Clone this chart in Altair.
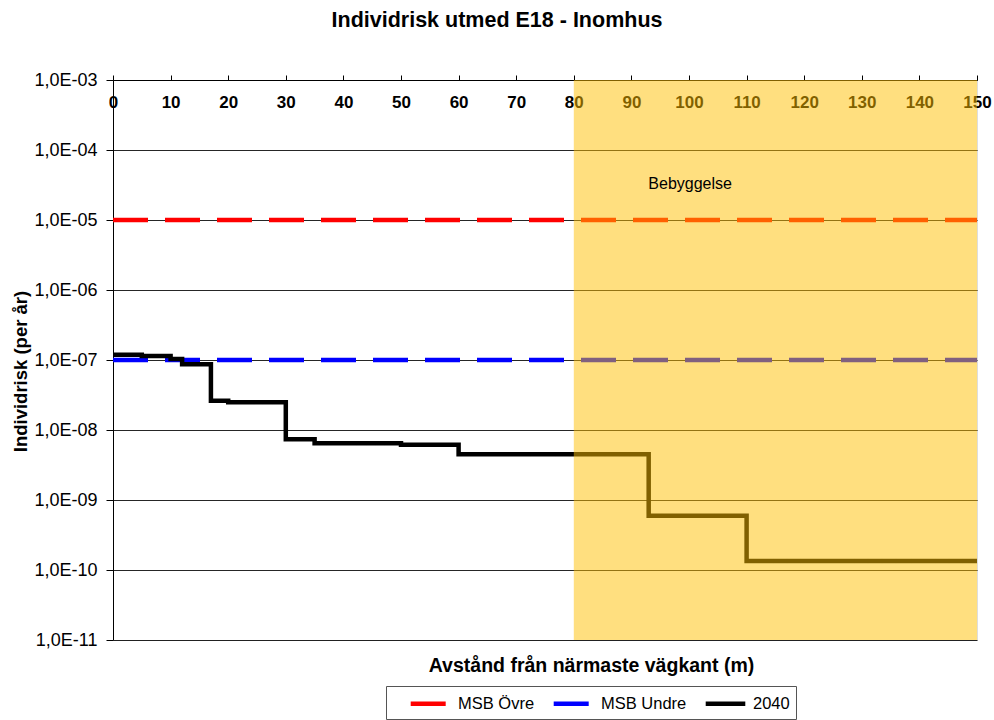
import altair as alt
import pandas as pd

# ---- data ----
series_names = ["MSB Övre", "MSB Undre", "2040"]
series_colors = ["#FF0000", "#0000FF", "#000000"]

limit_x = [0, 150]
msb_ovre = [1e-5, 1e-5]
msb_undre = [1e-7, 1e-7]

dist_2040 = [0, 5, 10, 12, 17, 20, 30, 35, 50, 60, 93, 110, 150]
risk_2040 = [1.19e-7, 1.14e-7, 1.03e-7, 8.7e-8, 2.62e-8, 2.49e-8, 7.37e-9,
             6.46e-9, 6.17e-9, 4.5e-9, 5.97e-10, 1.35e-10, 1.35e-10]

shade_start = [80]
shade_end = [150]
shade_bottom = [1e-11]
shade_top = [1e-3]

zone_label = ["Bebyggelse"]
zone_label_x = [100.2]
zone_label_y = [3.3e-5]

x_ticks = [0, 5, 10, 15, 20, 25, 30, 35, 40, 45, 50, 55, 60, 65, 70, 75,
           80, 85, 90, 95, 100, 105, 110, 115, 120, 125, 130, 135, 140, 145, 150]
y_ticks = [1e-3, 1e-4, 1e-5, 1e-6, 1e-7, 1e-8, 1e-9, 1e-10, 1e-11]

FONT = "Liberation Sans"

rows = []
for x, y in zip(limit_x, msb_ovre):
    rows.append({"series": series_names[0], "x": x, "y": y})
for x, y in zip(limit_x, msb_undre):
    rows.append({"series": series_names[1], "x": x, "y": y})
for x, y in zip(dist_2040, risk_2040):
    rows.append({"series": series_names[2], "x": x, "y": y})
lines_df = pd.DataFrame(rows)

shade_df = pd.DataFrame({"x": shade_start, "x2": shade_end,
                         "y": shade_bottom, "y2": shade_top})
label_df = pd.DataFrame({"x": zone_label_x, "y": zone_label_y, "text": zone_label})

x_scale = alt.Scale(domain=[0, 150], nice=False, zero=False)
y_scale = alt.Scale(type="log", domain=[1e-11, 1e-3], nice=False)

exp_expr = "abs(round(log(datum.value)/LN10))"
y_label_expr = "'1,0E-' + (" + exp_expr + " < 10 ? '0' : '') + " + exp_expr

x_axis = alt.Axis(
    orient="top", values=x_ticks,
    labelExpr="datum.value % 10 == 0 ? datum.label : ''",
    labelFlush=False, labelOverlap=False, labelBaseline="top",
    labelPadding=-19, tickSize=5, tickColor="black", domainColor="black",
    labelFont=FONT, labelFontSize=17, labelFontWeight="bold", labelColor="black",
    grid=False,
    title="Avstånd från närmaste vägkant (m)", titleX=478, titleY=585,
    titleAlign="center", titleBaseline="middle", titleAngle=0,
    titleFont=FONT, titleFontSize=19.5, titleFontWeight="bold", titleColor="black",
)

y_axis = alt.Axis(
    values=y_ticks, labelExpr=y_label_expr, tickSize=7, labelPadding=9,
    tickColor="black", domainColor="black",
    grid=True, gridColor="#000000", gridWidth=1, gridOpacity=0.85,
    labelFont=FONT, labelFontSize=18, labelColor="black", labelOverlap=False,
    title="Individrisk (per år)", titleX=-93, titleY=291, titleAngle=270,
    titleAlign="center", titleBaseline="middle",
    titleFont=FONT, titleFontSize=18.5, titleFontWeight="bold", titleColor="black",
)

lines = alt.Chart(lines_df).mark_line(interpolate="step-after", strokeWidth=4.5).encode(
    x=alt.X("x:Q", scale=x_scale, axis=x_axis),
    y=alt.Y("y:Q", scale=y_scale, axis=y_axis),
    color=alt.Color(
        "series:N",
        scale=alt.Scale(domain=series_names, range=series_colors),
        legend=alt.Legend(
            orient="none", legendX=273, legendY=606, direction="horizontal",
            title=None, symbolType="M-2.2,0L2.2,0", symbolSize=324,
            symbolStrokeWidth=4.5, symbolOffset=27,
            labelFont=FONT, labelFontSize=16.5, labelColor="black",
            strokeColor="#555555", fillColor="white", padding=6,
            columnPadding=-1, labelOffset=16,
        ),
    ),
    strokeDash=alt.StrokeDash(
        "series:N",
        scale=alt.Scale(domain=series_names, range=[[35, 17], [35, 17], [1, 0]]),
        legend=None,
    ),
    order=alt.Order("x:Q"),
)

shade = alt.Chart(shade_df).mark_rect(color="#FFC000", opacity=0.5).encode(
    x="x:Q", x2="x2:Q", y="y:Q", y2="y2:Q",
)

label = alt.Chart(label_df).mark_text(
    font=FONT, fontSize=16, color="black", align="center", baseline="middle"
).encode(x="x:Q", y="y:Q", text="text:N")

chart = alt.layer(lines, shade, label).properties(
    width=864, height=560,
    title=alt.TitleParams(
        "Individrisk utmed E18 - Inomhus", font=FONT, fontSize=21.5,
        fontWeight="bold", color="black", anchor="middle", frame="group",
        dx=-48, offset=40,
    ),
    autosize=alt.AutoSizeParams(type="none"),
    padding={"left": 113, "top": 80, "right": 17, "bottom": 80},
).configure_view(stroke="black", strokeWidth=1).configure(background="white")

chart.save("out.html", embed_options={"renderer": "svg", "actions": False})
